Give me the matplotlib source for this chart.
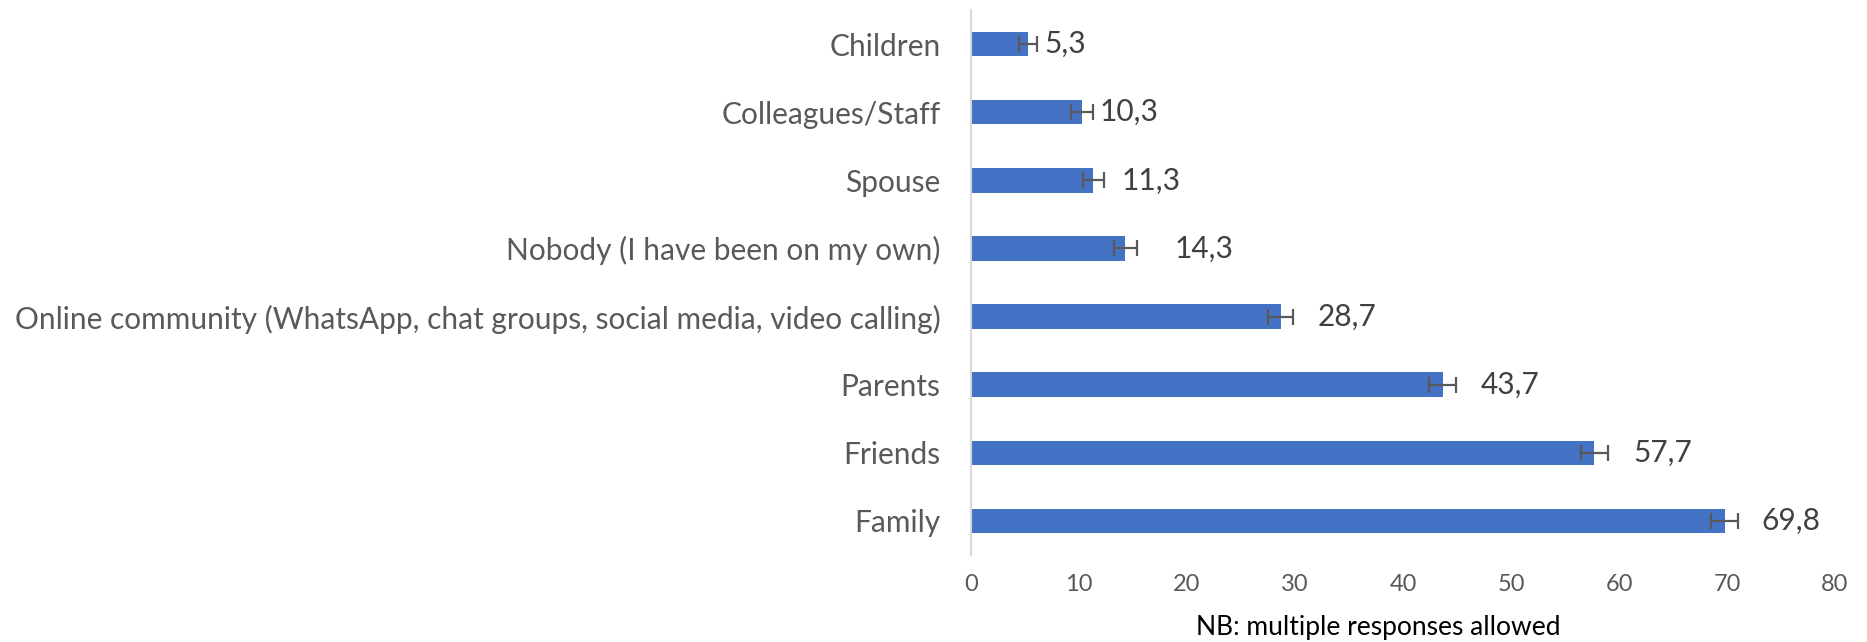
import matplotlib
matplotlib.use("Agg")
import matplotlib.pyplot as plt

categories = [
    "Children",
    "Colleagues/Staff",
    "Spouse",
    "Nobody (I have been on my own)",
    "Online community (WhatsApp, chat groups, social media, video calling)",
    "Parents",
    "Friends",
    "Family",
]
values = [5.3, 10.3, 11.3, 14.3, 28.7, 43.7, 57.7, 69.8]
errors = [0.83, 1.0, 0.97, 1.06, 1.16, 1.25, 1.25, 1.25]
value_labels = ["5,3", "10,3", "11,3", "14,3", "28,7", "43,7", "57,7", "69,8"]
xticks = [0, 10, 20, 30, 40, 50, 60, 70, 80]
note = "NB: multiple responses allowed"

# label offsets from bar end (pixels), as placed in the original
label_offsets_px = [16, 17, 28, 49, 37, 38, 39, 37]

plt.rcParams['font.family'] = ['Lato', 'DejaVu Sans']

W, H, DPI = 1867, 642, 100
fig = plt.figure(figsize=(W / DPI, H / DPI), dpi=DPI)
ax = fig.add_axes([971 / W, 1 - 555 / H, (1835 - 971) / W, (555 - 10) / H])

ypos = list(range(len(categories)))
ax.barh(ypos, values, height=0.36, color="#4472C4", zorder=2)
ax.errorbar(values, ypos, xerr=errors, fmt="none", ecolor="#595959",
            elinewidth=1.6, capsize=6, capthick=1.6, zorder=3)

for y, v, lab, off in zip(ypos, values, value_labels, label_offsets_px):
    ax.annotate(lab, xy=(v, y), xytext=(off * 72 / DPI, 0), textcoords="offset points",
                ha="left", va="center", fontsize=21.5, color="#404040")

ax.set_ylim(len(categories) - 0.5, -0.5)
ax.set_xlim(0, 80)
ax.set_xticks(xticks)
ax.set_xticklabels([str(t) for t in xticks])
ax.set_yticks(ypos)
ax.set_yticklabels(categories)

ax.tick_params(axis="x", length=0, pad=14, labelsize=17, labelcolor="#595959")
ax.tick_params(axis="y", length=0, pad=22, labelsize=21.5, labelcolor="#595959")

for s in ["top", "right", "bottom"]:
    ax.spines[s].set_visible(False)
ax.spines["left"].set_color("#D9D9D9")
ax.spines["left"].set_linewidth(1.5)

fig.text(1378 / W, 1 - 628 / H, note, ha="center", va="center", fontsize=19, color="#000000")

fig.savefig("out.png", dpi=DPI, facecolor="white")
